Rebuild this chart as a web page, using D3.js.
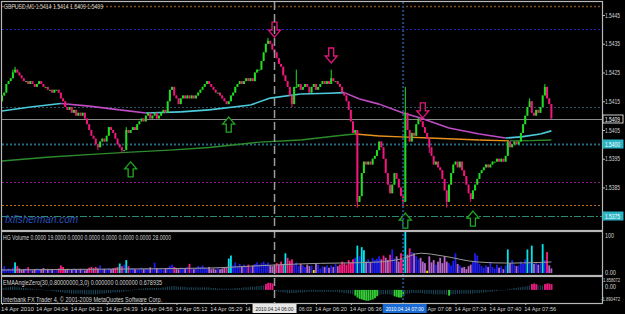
<!DOCTYPE html>
<html>
<head>
<meta charset="utf-8">
<script src="https://cdn.jsdelivr.net/npm/d3@7/dist/d3.min.js"></script>
<style>
  body { margin: 0; background: #000; }
  text { font-family: "Liberation Sans", Arial, sans-serif; }
  text.narrow { font-family: "Liberation Sans Narrow", "Liberation Sans", Arial, sans-serif; }
</style>
</head>
<body>
<div class="chart"></div>
<script>
// ---- data ----
const symbolTitle = "GBPUSD,M1 1.5414 1.5414 1.5409 1.5409"
const firstOpen = 1.5415
const closes = [
  1.5417,1.5418,1.5421,1.5422,1.5423,1.5425,1.5426,1.5425,1.5424,1.5423,1.5422,1.5422,1.5421,1.5422,1.5421,1.5420,1.5421,1.5422,1.5421,1.5420,1.5420,1.5419,1.5419,1.5418,1.5419,1.5419,1.5418,
  1.5416,1.5415,1.5413,1.5412,1.5413,1.5411,1.5412,1.5410,1.5411,1.5410,1.5411,1.5409,1.5407,1.5405,1.5403,1.5402,1.5400,1.5399,1.5401,1.5402,1.5401,1.5403,1.5406,1.5405,1.5404,1.5402,1.5400,1.5399,1.5398,1.5398,
  1.5405,1.5404,1.5405,1.5406,1.5405,1.5407,1.5408,1.5409,1.5408,1.5410,1.5411,1.5409,1.5410,1.5411,1.5409,1.5410,1.5411,1.5412,1.5411,1.5415,1.5419,1.5420,1.5417,1.5416,1.5414,1.5416,1.5417,1.5416,1.5417,1.5416,1.5417,1.5416,1.5417,1.5418,1.5419,1.5420,1.5421,1.5422,1.5421,
  1.5420,1.5419,1.5418,1.5418,1.5417,1.5416,1.5415,1.5414,1.5415,1.5417,1.5418,1.5420,1.5421,1.5422,1.5421,1.5422,1.5423,1.5422,1.5423,1.5422,1.5425,1.5426,1.5426,1.5429,1.5432,1.5435,1.5436,1.5435,1.5433,1.5432,1.5430,1.5428,1.5427,1.5424,1.5422,1.5420,1.5417,1.5414,1.5420,1.5420,
  1.5421,1.5419,1.5420,1.5421,1.5420,1.5418,1.5420,1.5421,1.5419,1.5420,1.5421,1.5422,1.5421,1.5422,1.5421,1.5423,1.5422,1.5422,1.5421,1.5420,1.5418,1.5417,1.5415,1.5412,1.5408,1.5404,1.5405,1.5380,1.5382,1.5390,1.5394,1.5393,1.5394,1.5393,1.5395,1.5396,1.5398,1.5401,1.5399,1.5395,1.5390,1.5386,1.5383,1.5386,1.5390,1.5388,1.5385,1.5382,1.5380,1.5411,
  1.5405,1.5401,1.5404,1.5403,1.5407,1.5409,1.5408,1.5406,1.5404,1.5402,1.5399,1.5396,1.5393,1.5394,1.5392,1.5391,1.5388,1.5384,1.5380,1.5386,1.5390,1.5393,1.5394,1.5392,1.5394,1.5391,1.5389,1.5386,1.5383,1.5381,1.5384,1.5386,1.5388,1.5390,1.5391,1.5392,1.5393,1.5392,1.5393,1.5394,1.5394,1.5395,1.5394,1.5395,1.5394,1.5396,1.5401,1.5399,1.5400,1.5401,1.5400,1.5401,1.5404,1.5407,1.5410,1.5413,1.5415,1.5411,1.5410,1.5412,1.5411,1.5413,1.5417,1.5420,1.5416,1.5414,1.5409
]
// bars whose wick sticks out past the body (bar index: price)
const wickHigh = {5: 1.5426, 6: 1.5427, 57: 1.5406, 122: 1.5437, 135: 1.5426, 151: 1.5426, 185: 1.5420, 242: 1.5416, 249: 1.5421}
const wickLow = {44: 1.5398, 55: 1.5397, 133: 1.5413, 163: 1.5378, 184: 1.5378, 196: 1.5397, 204: 1.5378, 215: 1.5380}

// moving averages (bar index, price)
const maFastIdx = [0, 13, 27, 40, 54, 66, 82, 95, 114, 123, 137, 150, 157, 164, 173, 184, 192, 205, 219, 231, 238, 247, 252]
const maFastVal = [1.54116, 1.5413, 1.54142, 1.54133, 1.5412, 1.54109, 1.54113, 1.5412, 1.54137, 1.54161, 1.54175, 1.54178, 1.5418, 1.54158, 1.5414, 1.54109, 1.54092, 1.54057, 1.54036, 1.54022, 1.54026, 1.54036, 1.54047]
const maSlowIdx = [0, 22, 45, 59, 77, 95, 118, 137, 155, 162, 173, 183, 196, 219, 233, 242, 252]
const maSlowVal = [1.53942, 1.53956, 1.53967, 1.53973, 1.5398, 1.53989, 1.54008, 1.54015, 1.54031, 1.54036, 1.54029, 1.54026, 1.54022, 1.54015, 1.54012, 1.54013, 1.54015]

// signal arrows (bar index, price at the arrow tip)
const upArrows = [[59, 1.53939], [104, 1.54095], [185, 1.53761], [216, 1.53768]]
const downArrows = [[125, 1.54373], [151, 1.54283], [193, 1.54092]]

// horizontal levels and crosshair bars
const levels = [1.5448, 1.5440, 1.5413, 1.5400, 1.5387, 1.5379, 1.5375]
const crossBars = [125, 184]
const crossLabels = ["2010.04.14 06:00", "2010.04.14 07:00"]

const priceTicks = [1.5445, 1.5435, 1.5425, 1.5415, 1.5405, 1.5395, 1.5385]
const timeTickIdx = [0, 16, 32, 48, 64, 80, 96, 112, 128, 144, 160, 176, 192, 208, 224, 240]
const timeLabels = ["14 Apr 2010", "14 Apr 04:04", "14 Apr 04:21", "14 Apr 04:39", "14 Apr 04:56", "14 Apr 05:12",
  "14 Apr 05:29", "14 Apr 05:46", "14 Apr 06:03", "14 Apr 06:20", "14 Apr 06:36", "14 Apr 06:52",
  "14 Apr 07:08", "14 Apr 07:24", "14 Apr 07:40", "14 Apr 07:56"]

// tick volume per bar
const volumes = [
  10,18,8,12,9,14,28,18,12, 8,10,12,15,9,7,10, 12,10,9,13,8,11,10,9,7, 10,12,20,16,9,11,
  8,9,12,10,8,11,9,7,10,14,16,12, 16,12,20,10, 11,9,13,10,12,14,16,25,18, 22,34,18,
  12,13,10,9,11,14,10,12, 12,15,10,27,13, 10,12,9,11,14,18,22,16,
  12,10,14,13,11,16,24,12,10,14,18,15,20,14,12,16, 10,12,9,13,10,12,14,16, 38,46,
  20,28,18,24,16,22, 18,22,16,20,24,28,22,26,30, 24,28,20,18,22, 26,22,30,24, 52,40,32,36,
  22,28,18,24,20,16,22, 18,20,8,24,22,12,18,16,20,14, 20,16,24,18,22, 30,26,22,34,28, 36,40,
  72,44,68,60, 30,36,28,40,34,38, 44,36,46,40,34,48, 62, 38,44,30, 52, 40, 108,
  48,65,55,52, 44,36, 40,30,26, 6, 44, 28,34,22,30, 40,26,44,30,26, 20,32,52,24, 20,14,16,10,18,22,
  30,52,46, 24,18,14,20,16, 28, 16,12,22,14,18,10,20, 62,26,34, 22,18,20, 30,24,36, 62,30,72,
  24,28,22,26, 76,34,55,20,12
]
const volMaIdx = [0, 45, 95, 114, 137, 173, 183, 192, 202, 218, 233, 252]
const volMaVal = [8, 10, 13, 18, 24, 29, 37, 52, 45, 29, 26, 29]
const volumeTitle = "HG Volume 0.0000 19.0000 0.0000 0.0000 0.0000 0.0000 0.0000 28.0000"
const volLabels = ["100", "0.00"]

// EMA angle histogram per bar
const emaAngle = [
  0.2,0.3,0.4,0.4,0.5,0.5,0.5,0.4,0.4,0.3,0.3,0.3,0.2,0.2,0.2,0.1,0.1,0.1,0.1,0.0,0.0,
  -0.1,-0.1,-0.2,-0.2,-0.3,-0.3,-0.4,-0.4,-0.5,
  -0.5,-0.5,-0.6,-0.6,-0.6,-0.6,-0.6,-0.6,-0.7,-0.7,-0.7,-0.7,-0.7,-0.7,-0.7,-0.6,-0.6,-0.6,-0.5,-0.5,
  -0.5,-0.4,-0.4,-0.4,-0.4,-0.3,-0.3,-0.2,-0.2,-0.1,0.0,
  0.1,0.1,0.2,0.2,0.2,0.3,0.3,0.3,0.3,0.3,0.3,0.3,0.3,0.4,0.4,0.5,0.5,0.6,0.6,0.6,0.5,0.5,0.5,0.5,0.4,0.4,0.4,0.4,0.4,0.4,0.4,0.4,0.4,0.4,
  0.4,0.3,0.3,0.3,0.2,0.2,0.2,0.2,0.2,0.2,0.2,0.2,0.3,0.3,0.3,0.3,
  0.4,0.4,0.4,0.5,0.5,0.5,0.6,0.6,0.7,0.7,
  0.9,1.1,1.1,1.0,
  -0.1,-0.2,-0.3,-0.3,-0.4,-0.4,-0.5,-0.5,-0.5,-0.5,-0.5,-0.4,-0.4,-0.4,-0.4,-0.3,-0.3,-0.3,-0.3,-0.3,-0.3,-0.3,-0.3,-0.3,-0.3,-0.3,-0.3,-0.3,-0.3,-0.3,-0.4,-0.4,-0.5,-0.5,-0.6,-0.6,-0.7,
  -0.9,-1.2,-1.4,-1.5,-1.6,-1.7,-1.7,-1.6,-1.5,-1.3,-1.0,
  -0.8,-0.7,-0.7,-0.7,-0.7,-0.7,-0.8,
  -1.0,-1.1,-1.2,-1.2,-1.0,
  -0.7,-0.6,-0.6,-0.5,-0.5,-0.5,-0.5,-0.5,-0.5,-0.6,-0.6,-0.6,-0.6,-0.7,-0.7,-0.7,-0.7,-0.7,-0.7,-0.8,
  -0.9,
  -0.7,-0.7,-0.7,-0.6,-0.6,-0.6,-0.6,-0.6,-0.6,-0.6,-0.6,-0.5,-0.5,-0.5,-0.4,-0.4,-0.4,-0.3,-0.3,-0.3,-0.2,-0.2,-0.1,-0.1,0.0,0.0,0.1,
  0.2,0.2,0.3,0.3,0.4,0.4,0.5,0.5,0.6,0.7,
  0.9,1.0,0.9,
  0.7,0.7,0.7,
  0.9,1.0,1.0,0.9
]
const emaTitle = "EMAAngleZero(30,0.80000000,3,0) 0.000000 0.000000 0.678935"
const emaRange = [-1.890472, 1.858072]
const emaLabels = ["1.858072", "0.00", "-1.890472"]
const footer = "Interbank FX Trader 4, \u00a9 2001-2009 MetaQuotes Software Corp."

// ---- layout ----
const width = 625
const height = 314
const svg = d3.select(".chart").append("svg")
    .attr("width", width)
    .attr("height", height)
    .style("background", "#000")
    .style("display", "block")

const left = 2, right = 602
const main = {top: 2, bottom: 230}
const vol = {top: 232, bottom: 275}
const ema = {top: 277, bottom: 303}
const axisEnd = 620  // right-aligned edge of the scale labels

const x = d3.scaleLinear().domain([0, closes.length - 1]).range([2, 551.4])
const y = d3.scaleLinear().domain([1.5385, 1.5445]).range([187.5, 15])
const yVol = d3.scaleLinear().domain([0, 100]).range([273, 235])
const yEma = d3.scaleLinear().domain(emaRange).range([302, 278])

const gray = "#b8b8b8"
const txt = "#d4d4d4"

// clip for main panel
svg.append("clipPath").attr("id", "clipMain")
  .append("rect").attr("x", left).attr("y", main.top).attr("width", right - left).attr("height", main.bottom - main.top)

const plot = svg.append("g").attr("clip-path", "url(#clipMain)")

// horizontal levels
const levelStyle = [
  {c: "#7e4e1c", w: 1.6, d: "2,2"},
  {c: "#2222b4", w: 1, d: "2,2"},
  {c: "#2a5868", w: 1, d: "2,2"},
  {c: "#276a80", w: 2, d: "2,2"},
  {c: "#8e1c8e", w: 1, d: "2,2"},
  {c: "#b86c18", w: 1, d: "2,2"},
  {c: "#2a8c74", w: 1, d: "7,2,2,2"}
]
plot.selectAll("line.level")
  .data(levels)
  .join("line")
    .attr("class", "level")
    .attr("x1", left).attr("x2", right)
    .attr("y1", d => Math.round(y(d)) + 0.5).attr("y2", d => Math.round(y(d)) + 0.5)
    .attr("stroke", (d, i) => levelStyle[i].c)
    .attr("stroke-width", (d, i) => levelStyle[i].w)
    .attr("stroke-dasharray", (d, i) => levelStyle[i].d)

// bid line
const lastClose = closes[closes.length - 1]
plot.append("line")
  .attr("x1", left).attr("x2", right)
  .attr("y1", Math.round(y(lastClose)) + 0.5).attr("y2", Math.round(y(lastClose)) + 0.5)
  .attr("stroke", "#8a8a8a")

// moving averages, coloured by slope
function drawMA(idx, vals, upColor, downColor, w) {
  const pts = d3.zip(idx, vals)
  const line = d3.line().x(d => x(d[0])).y(d => y(d[1]))
  plot.append("g").selectAll("path")
    .data(d3.pairs(pts))
    .join("path")
      .attr("d", d => line(d))
      .attr("fill", "none")
      .attr("stroke", d => d[1][1] >= d[0][1] ? upColor : downColor)
      .attr("stroke-width", w)
}
drawMA(maSlowIdx, maSlowVal, "#2c8c2c", "#e8921c", 1.4)
drawMA(maFastIdx, maFastVal, "#4ccbdc", "#c04cc4", 1.6)

// candles
const bars = closes.map((c, i) => {
  const o = i ? closes[i - 1] : firstOpen
  return {
    i, o, c,
    hi: wickHigh[i] !== undefined ? wickHigh[i] : Math.max(o, c),
    lo: wickLow[i] !== undefined ? wickLow[i] : Math.min(o, c)
  }
})
const upCol = "#22dc22", dnCol = "#f0167c"
const candles = plot.append("g").selectAll("g")
  .data(bars)
  .join("g")
candles.append("line")
  .attr("x1", d => x(d.i)).attr("x2", d => x(d.i))
  .attr("y1", d => y(d.hi)).attr("y2", d => y(d.lo))
  .attr("stroke", d => d.c >= d.o ? upCol : dnCol)
  .attr("stroke-width", 1)
candles.append("rect")
  .attr("x", d => x(d.i) - 1)
  .attr("width", 2)
  .attr("y", d => y(Math.max(d.o, d.c)))
  .attr("height", d => Math.max(1, Math.abs(y(d.o) - y(d.c))))
  .attr("fill", d => d.c >= d.o ? upCol : dnCol)

// arrows
function arrowPath(dir) {
  const pts = [[0, 0], [6, 7], [2.5, 7], [2.5, 15], [-2.5, 15], [-2.5, 7], [-6, 7]]
  return "M" + pts.map(p => p[0] + "," + p[1] * dir).join("L") + "Z"
}
plot.selectAll("path.up")
  .data(upArrows)
  .join("path")
    .attr("class", "up")
    .attr("d", arrowPath(1))
    .attr("transform", d => `translate(${x(d[0])},${y(d[1])})`)
    .attr("fill", "#000").attr("stroke", "#22a822").attr("stroke-width", 1.3)
plot.selectAll("path.down")
  .data(downArrows)
  .join("path")
    .attr("class", "down")
    .attr("d", arrowPath(-1))
    .attr("transform", d => `translate(${x(d[0])},${y(d[1])})`)
    .attr("fill", "#000").attr("stroke", "#e0187c").attr("stroke-width", 1.3)

// watermark
svg.append("text")
  .attr("x", 5).attr("y", 223)
  .attr("font-size", 10).attr("font-style", "italic")
  .attr("fill", "#2c50bc")
  .attr("textLength", 73).attr("lengthAdjust", "spacingAndGlyphs")
  .text("fxfisherman.com")

// ---- volume panel ----
const volAvg = volumes.map((v, i) => d3.mean(volumes.slice(Math.max(0, i - 19), i + 1)))
function volColor(v, i) {
  const b = bars[i]
  if (v >= 1.9 * volAvg[i]) return "#00e6ec"
  if (v <= 0.35 * volAvg[i]) return "#e6e600"
  if (b.c < b.o) return v > 1.1 * volAvg[i] ? "#ff1c82" : "#b868cc"
  return "#1e1ef0"
}
svg.append("g").selectAll("rect")
  .data(volumes)
  .join("rect")
    .attr("x", (d, i) => x(i) - 0.9)
    .attr("width", 1.8)
    .attr("y", d => yVol(d))
    .attr("height", d => yVol(0) - yVol(d))
    .attr("fill", volColor)
svg.append("path")
  .datum(d3.zip(volMaIdx, volMaVal))
  .attr("d", d3.line().x(d => x(d[0])).y(d => yVol(d[1])).curve(d3.curveMonotoneX))
  .attr("fill", "none").attr("stroke", "#9a9a9a").attr("stroke-width", 1)

// ---- EMA angle panel ----
svg.append("g").selectAll("rect")
  .data(emaAngle)
  .join("rect")
    .attr("x", (d, i) => x(i) - 0.8)
    .attr("width", d => Math.abs(d) > 0.8 ? 1.9 : 1.1)
    .attr("y", d => Math.min(yEma(d), yEma(0)))
    .attr("height", d => Math.max(0.5, Math.abs(yEma(d) - yEma(0))))
    .attr("fill", d => d > 0.8 ? "#ee1a82" : d < -0.8 ? "#34cc34" : "#1d4558")

// crosshair vertical lines (through every panel)
svg.append("line")
  .attr("x1", x(crossBars[0])).attr("x2", x(crossBars[0]))
  .attr("y1", main.top).attr("y2", ema.bottom)
  .attr("stroke", "#9c9c9c").attr("stroke-width", 1.5).attr("stroke-dasharray", "8,4")
svg.append("line")
  .attr("x1", x(crossBars[1])).attr("x2", x(crossBars[1]))
  .attr("y1", main.top).attr("y2", ema.bottom)
  .attr("stroke", "#1e4c7e").attr("stroke-width", 2).attr("stroke-dasharray", "2,2")

// panel frames
;[main, vol, ema].forEach(p => {
  svg.append("rect")
    .attr("x", left - 0.5).attr("y", p.top - 0.5)
    .attr("width", right - left + 1).attr("height", p.bottom - p.top + 1)
    .attr("fill", "none").attr("stroke", gray).attr("stroke-width", 1.2)
})

// text helpers
function label(str, xx, yy, len, anchor, color) {
  return svg.append("text")
    .attr("x", xx).attr("y", yy)
    .attr("font-size", 7.2).attr("fill", color || txt)
    .attr("text-anchor", anchor || "start")
    .attr("textLength", len).attr("lengthAdjust", "spacingAndGlyphs")
    .text(str)
}
function small(str, xx, yy, size, len, anchor, color) {
  return label(str, xx, yy, len, anchor, color).attr("class", "narrow").attr("font-size", size)
}
label(symbolTitle, 4, 9, 99)
label(volumeTitle, 3, 239.5, 168)
label(emaTitle, 3, 284.5, 159)
label(footer, 3, 302, 159)

// price axis
const priceAxis = svg.append("g")
  .attr("transform", `translate(${right},0)`)
  .call(d3.axisRight(y).tickValues(priceTicks).tickFormat(d3.format(".4f")).tickSize(3).tickPadding(2))
priceAxis.select(".domain").remove()
priceAxis.selectAll("line").attr("stroke", gray)
priceAxis.selectAll("text").attr("class", "narrow").attr("fill", txt).attr("font-size", 6.5)
  .attr("text-anchor", "end").attr("x", axisEnd - right)
  .attr("textLength", 15).attr("lengthAdjust", "spacingAndGlyphs")

// price boxes
function priceBox(p, fill, stroke, color) {
  const yy = Math.round(y(p))
  svg.append("rect").attr("x", right + 1).attr("y", yy - 4).attr("width", 20).attr("height", 8)
    .attr("fill", fill).attr("stroke", stroke)
  small(d3.format(".4f")(p), axisEnd, yy + 2.5, 6.5, 15, "end", color)
}
priceBox(lastClose, "#000", "#d0d0d0", "#ffffff")
priceBox(levels[3], "#2ab4c4", "#2ab4c4", "#ffffff")
priceBox(levels[6], "#2ab4c4", "#2ab4c4", "#ffffff")

// volume / ema scale labels
small(volLabels[0], axisEnd - 6, yVol(100) + 2.5, 6.5, 9, "end")
small(volLabels[1], axisEnd - 4, yVol(0) + 1.5, 6.5, 11, "end")
small(emaLabels[0], 620, 282, 5, 17, "end")
small(emaLabels[1], axisEnd - 4, 288.5, 6.5, 11, "end")
small(emaLabels[2], 620, 301, 5, 19, "end")

// time axis ticks
const timeAxis = svg.append("g")
  .attr("transform", `translate(0,${ema.bottom})`)
  .call(d3.axisBottom(x).tickValues(timeTickIdx).tickFormat("").tickSize(2))
timeAxis.select(".domain").remove()
timeAxis.selectAll("line").attr("stroke", gray)

// crosshair time boxes cover parts of the time labels
const boxShift = [0, 1.5]
const boxes = crossBars.map((b, k) => [x(b) + boxShift[k] - 22, x(b) + boxShift[k] + 22])
const charW = 32 / 12
function visiblePart(str, x0) {
  let best = {s: "", k: 0}, cur = {s: "", k: 0}
  for (let k = 0; k < str.length; k++) {
    const a = x0 + k * charW, b = a + charW
    if (boxes.some(bx => b > bx[0] && a < bx[1])) { cur = {s: "", k: 0}; continue }
    if (!cur.s) cur.k = k
    cur.s += str[k]
    if (cur.s.length > best.s.length) best = {s: cur.s, k: cur.k}
  }
  const lead = best.s.length - best.s.trimStart().length
  return {s: best.s.trim(), x: x0 + (best.k + lead) * charW}
}
timeTickIdx.forEach((t, k) => {
  const v = visiblePart(timeLabels[k], x(t) - 1)
  if (!v.s) return
  small(v.s, v.x, 311, 6, k === 0 ? 33 : v.s.length * charW)
})

crossBars.forEach((b, k) => {
  const cx = (boxes[k][0] + boxes[k][1]) / 2
  svg.append("rect").attr("x", boxes[k][0]).attr("y", 304).attr("width", 44).attr("height", 9)
    .attr("fill", k === 0 ? "#e8e8e8" : "#1a6cd4")
  small(crossLabels[k], cx, 311, 4.8, 38, "middle", k === 0 ? "#222" : "#fff")
})
</script>
</body>
</html>
